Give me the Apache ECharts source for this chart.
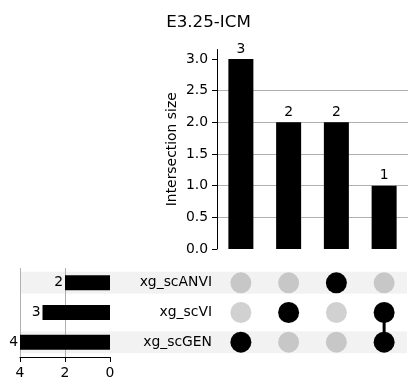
<!DOCTYPE html>
<html>
<head>
<meta charset="utf-8">
<script src="https://cdn.jsdelivr.net/npm/echarts@6/dist/echarts.min.js"></script>
<style>html,body{margin:0;padding:0;background:#fff}#c{width:417px;height:391px}</style>
</head>
<body>
<div id="c"></div>
<script>
const chartTitle = 'E3.25-ICM';
const setNames = ['xg_scGEN', 'xg_scVI', 'xg_scANVI']; // bottom to top
const setSizes = [4, 3, 2];
const intersectionSizes = [3, 2, 2, 1];
// membership per intersection column: list of set names
const intersectionMembers = [
  ['xg_scGEN'],
  ['xg_scVI'],
  ['xg_scANVI'],
  ['xg_scGEN', 'xg_scVI']
];
const yTicks = [0, 0.5, 1.0, 1.5, 2.0, 2.5, 3.0];
const setSizeTicks = [0, 2, 4];

const FONT = 'DejaVu Sans';
const FS = 13.9;
const cols = intersectionSizes.map((_, i) => String(i));

const grayDots = [];
const blackDots = [];
const connectors = [];
intersectionMembers.forEach((mem, c) => {
  const rows = [];
  setNames.forEach((s, r) => {
    if (mem.includes(s)) { blackDots.push([c, r]); rows.push(r); }
    else grayDots.push([c, r]);
  });
  if (rows.length > 1) {
    connectors.push({
      type: 'line', xAxisIndex: 1, yAxisIndex: 1, symbol: 'none', silent: true, z: 3,
      lineStyle: { color: '#000', width: 3, opacity: 1 },
      data: [[c, Math.min(...rows)], [c, Math.max(...rows)]]
    });
  }
});
const bandData = setNames.map((_, i) => (i % 2 === 0 ? 1 : 0));

const chart = echarts.init(document.getElementById('c'), null, { renderer: 'canvas' });
chart.setOption({
  animation: false,
  textStyle: { fontFamily: FONT },
  title: {
    text: chartTitle, left: 'center', top: 9,
    textStyle: { fontFamily: FONT, fontSize: 16.7, fontWeight: 'normal', color: '#000' }
  },
  grid: [
    { left: 217, width: 191, top: 49.5, height: 199.5 },
    { left: 217, width: 191, top: 268, height: 89 },
    { left: 20, width: 90, top: 268, height: 89 },
    { left: 20, width: 387, top: 268, height: 89 }
  ],
  xAxis: [
    { type: 'category', gridIndex: 0, data: cols, show: false },
    { type: 'category', gridIndex: 1, data: cols, show: false },
    {
      type: 'value', gridIndex: 2, inverse: true, min: 0, max: 4, interval: 2, position: 'bottom',
      axisLine: { show: true, lineStyle: { color: '#000', width: 1 } },
      axisTick: { show: true, length: 5, lineStyle: { color: '#000' } },
      axisLabel: { fontFamily: FONT, fontSize: FS, color: '#000', margin: 9, customValues: setSizeTicks },
      splitLine: { show: true, showMinLine: false, lineStyle: { color: '#b0b0b0', width: 1 } }
    },
    { type: 'value', gridIndex: 3, min: 0, max: 1, show: false }
  ],
  yAxis: [
    {
      type: 'value', gridIndex: 0, min: 0, max: 3.15, interval: 0.5,
      name: 'Intersection size', nameLocation: 'middle', nameGap: 38, nameRotate: 90,
      nameTextStyle: { fontFamily: FONT, fontSize: FS, color: '#000' },
      axisLine: { show: true, lineStyle: { color: '#000', width: 1 } },
      axisTick: { show: true, length: 5, lineStyle: { color: '#000' }, customValues: yTicks },
      axisLabel: { fontFamily: FONT, fontSize: FS, color: '#000', margin: 9, customValues: yTicks,
        formatter: v => v.toFixed(1) },
      splitLine: { show: true, showMaxLine: false, showMinLine: false, lineStyle: { color: '#b0b0b0', width: 1 } }
    },
    {
      type: 'category', gridIndex: 1, data: setNames,
      axisLine: { show: false }, axisTick: { show: false },
      axisLabel: { fontFamily: FONT, fontSize: FS, color: '#000', margin: 5 }
    },
    { type: 'category', gridIndex: 2, data: setNames, show: false },
    { type: 'category', gridIndex: 3, data: setNames, show: false }
  ],
  series: [
    {
      type: 'bar', xAxisIndex: 3, yAxisIndex: 3, data: bandData, barWidth: 22, silent: true, z: -1,
      itemStyle: { color: 'rgba(0,0,0,0.05)' }
    },
    {
      type: 'bar', xAxisIndex: 0, yAxisIndex: 0, data: intersectionSizes, barWidth: 25,
      itemStyle: { color: '#000' },
      label: { show: true, position: 'top', distance: 3, fontFamily: FONT, fontSize: FS, color: '#000' }
    },
    {
      type: 'bar', xAxisIndex: 2, yAxisIndex: 2, data: setSizes, barWidth: 15,
      itemStyle: { color: '#000' },
      label: { show: true, position: 'left', distance: 2, fontFamily: FONT, fontSize: FS, color: '#000' }
    },
    {
      type: 'scatter', xAxisIndex: 1, yAxisIndex: 1, data: grayDots, symbolSize: 21, silent: true, z: 2,
      itemStyle: { color: 'rgba(0,0,0,0.18)', opacity: 1 }
    },
    {
      type: 'scatter', xAxisIndex: 1, yAxisIndex: 1, data: blackDots, symbolSize: 21, silent: true, z: 4,
      itemStyle: { color: '#000', opacity: 1 }
    },
    ...connectors
  ]
});
</script>
</body>
</html>
